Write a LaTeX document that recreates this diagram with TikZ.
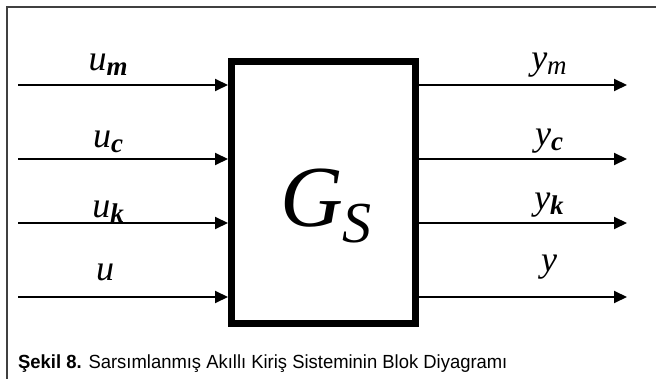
\documentclass[tikz,border=0pt]{standalone}
\usepackage{fontspec}
\setmainfont{Liberation Serif}
\newfontfamily\capfont{Liberation Sans}
\usetikzlibrary{arrows.meta, positioning}
\tikzset{ sig/.style = {line width=2pt, -{Triangle[length=13pt, width=12pt]}},
  lbl/.style = {anchor=base, inner sep=0pt, font=\fontsize{36}{36}\selectfont\itshape} }
\newcommand{\sgl}[2]{#1\raisebox{-5pt}{\fontsize{27}{27}\selectfont #2}}

\begin{document}
\begin{tikzpicture}[x=1pt, y=-1pt]
  \useasboundingbox (0,0) rectangle (656,379);
  \draw[line width=1.6pt, black!75] (7,379) -- (7,7) -- (656,7);

  \node[draw, line width=7pt, minimum width=184pt, minimum height=262pt, inner sep=0pt] (gs) at (323.5,192.5) {};
  \node[anchor=base, inner sep=0pt, font=\fontsize{87}{87}\selectfont\itshape] (gsl) at (326,227)
    {G\raisebox{-16pt}{\fontsize{58}{58}\selectfont S}};

  % inputs
  \coordinate (in1) at (18,85);  \coordinate (in2) at (18,159);
  \coordinate (in3) at (18,223); \coordinate (in4) at (18,297);
  \foreach \i in {1,...,4} \draw[sig] (in\i) -- (in\i -| gs.west);
  \node[lbl] (um) at (108,71) {\sgl{u}{\bfseries m}};
  \node[lbl] (uc) at (108,148) {\sgl{u}{\bfseries c}};
  \node[lbl] (uk) at (108,218) {\sgl{u}{\bfseries k}};
  \node[lbl] (u) at (105,281) {u};

  % outputs
  \coordinate (out1) at (627,85);  \coordinate (out2) at (627,159);
  \coordinate (out3) at (627,223); \coordinate (out4) at (627,297);
  \foreach \i in {1,...,4} \draw[sig] (out\i -| gs.east) -- (out\i);
  \node[lbl] (ym) at (549,70) {\sgl{y}{m}};
  \node[lbl] (yc) at (549,146) {\sgl{y}{\bfseries c}};
  \node[lbl] (yk) at (549,210) {\sgl{y}{\bfseries k}};
  \node[lbl] (y) at (549,272) {y};

  \node[anchor=base west, inner sep=0pt, font=\capfont\fontsize{19}{19}\selectfont] (cap) at (18,368)
    {\scalebox{0.97}[1]{\textbf{Şekil 8.} Sarsımlanmış Akıllı Kiriş Sisteminin Blok Diyagramı}};
\end{tikzpicture}
\end{document}
